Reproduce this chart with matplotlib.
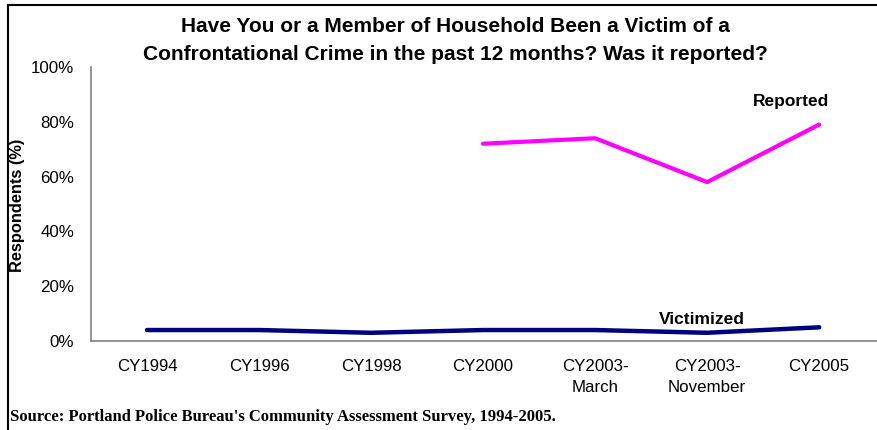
import matplotlib.pyplot as plt
from matplotlib.patches import Rectangle
import numpy as np

# survey waves
categories = ['CY1994', 'CY1996', 'CY1998', 'CY2000', 'CY2003-\nMarch',
              'CY2003-\nNovember', 'CY2005']
victimized = [4, 4, 3, 4, 4, 3, 5]
reported   = [None, None, None, 72, 74, 58, 79]
y_ticks    = [0, 20, 40, 60, 80, 100]

plt.rcParams['font.family'] = ['Liberation Sans', 'DejaVu Sans']

fig = plt.figure(figsize=(8.78, 4.30), dpi=100, facecolor='white')

# frame around the chart (only top and left edges are visible)
fig.patches.append(Rectangle((8/878, -0.1), 1.2, 1 - 5/430 + 0.1,
                             transform=fig.transFigure, fill=False,
                             edgecolor='black', lw=1.5))

ax = fig.add_axes([91/878, 1 - 341/430, 787/878, (341 - 67)/430])
x = np.arange(len(categories))

rep = np.array([np.nan if v is None else v for v in reported], dtype=float)
ax.plot(x, victimized, color='#000080', lw=3.2, solid_capstyle='round')
ax.plot(x, rep, color='#FF00FF', lw=3.0, solid_capstyle='round')

ax.text(5.75, 87.5, 'Reported', ha='center', va='center', fontsize=12.5, fontweight='bold')
ax.text(4.95, 8, 'Victimized', ha='center', va='center', fontsize=12.5, fontweight='bold')

ax.set_xlim(-0.5, 6.525)
ax.set_ylim(0, 100)
ax.set_xticks(x)
ax.set_xticklabels(categories, fontsize=12.2, linespacing=1.5)
ax.set_yticks(y_ticks)
ax.set_yticklabels(['{}%'.format(v) for v in y_ticks], fontsize=12.2)
ax.tick_params(axis='x', length=0, pad=13)
ax.tick_params(axis='y', length=0, pad=12)
for s in ['top', 'right']:
    ax.spines[s].set_visible(False)
for s in ['left', 'bottom']:
    ax.spines[s].set_color('#808080')
    ax.spines[s].set_linewidth(1.2)

fig.text(18/878, 1 - 205/430, 'Respondents (%)', rotation=90, ha='center',
         va='center', fontsize=11.8, fontweight='bold')
fig.text(455/878, 1 - 41/430,
         'Have You or a Member of Household Been a Victim of a\n'
         'Confrontational Crime in the past 12 months? Was it reported?',
         ha='center', va='center', fontsize=15, fontweight='bold', linespacing=1.6)
fig.text(10/878, 1 - 417/430,
         "Source: Portland Police Bureau's Community Assessment Survey, 1994-2005.",
         ha='left', va='center', fontsize=12, fontweight='bold',
         family=['Liberation Serif', 'DejaVu Serif'])

fig.savefig('out.png', dpi=100)
